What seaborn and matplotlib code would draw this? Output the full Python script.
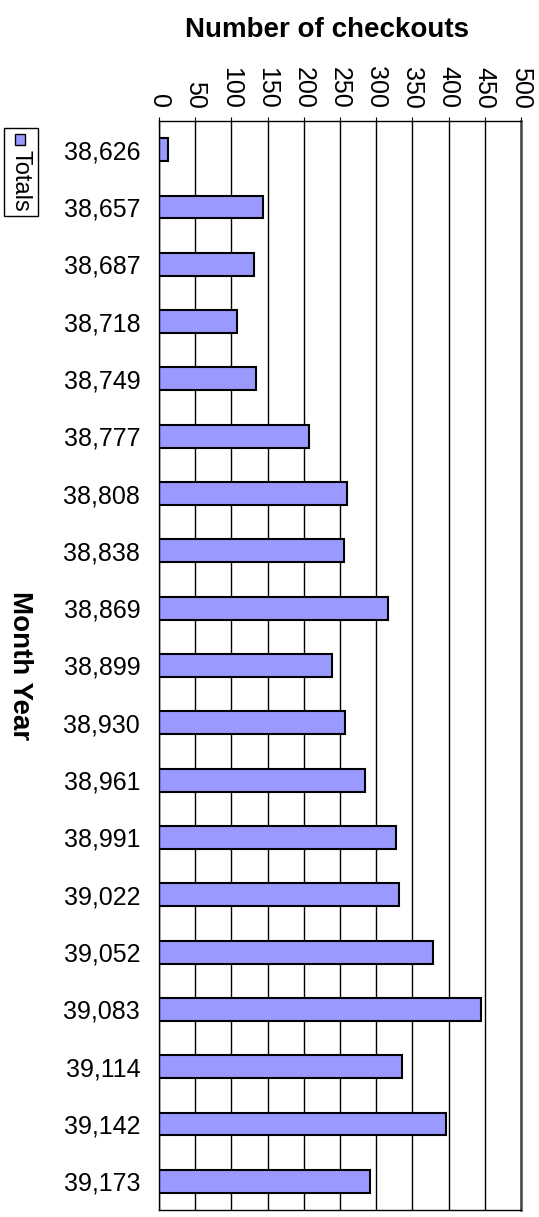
import pandas as pd
import matplotlib
matplotlib.use("Agg")
import matplotlib.pyplot as plt
import seaborn as sns
from matplotlib.patches import Rectangle

# Datos: etiquetas de mes (serie de fecha de Excel) y total de préstamos
months = ["38,626", "38,657", "38,687", "38,718", "38,749", "38,777", "38,808",
          "38,838", "38,869", "38,899", "38,930", "38,961", "38,991", "39,022",
          "39,052", "39,083", "39,114", "39,142", "39,173"]
totals = [12, 144, 131, 108, 134, 207, 260, 256, 316, 239, 257, 284, 328, 331,
          378, 445, 336, 397, 292]
x_ticks = [0, 50, 100, 150, 200, 250, 300, 350, 400, 450, 500]

df = pd.DataFrame({"month": months, "totals": totals})

sns.set_style("white")
plt.rcParams["font.family"] = ["Liberation Sans", "DejaVu Sans"]
plt.rcParams["text.color"] = "black"
plt.rcParams["xtick.color"] = "black"
plt.rcParams["ytick.color"] = "black"

W, H = 539, 1217
fig = plt.figure(figsize=(W / 100, H / 100), dpi=100)
ax = fig.add_axes([159 / W, 1 - 1210 / H, (521 - 159) / W, (1210 - 121) / H])

sns.barplot(data=df, x="totals", y="month", orient="h", color="#9999FF",
            saturation=1, width=0.4, edgecolor="black", linewidth=1.5, ax=ax)

ax.set_xlim(0, 500)
ax.set_xticks(x_ticks)
ax.xaxis.tick_top()
ax.grid(axis="x", color="black", linewidth=1)
ax.set_axisbelow(True)
ax.tick_params(axis="x", labelrotation=-90, labelsize=18, length=3, pad=6,
               top=True, bottom=False, colors="black")
ax.tick_params(axis="y", labelsize=18, length=0, pad=13.5, colors="black")
ax.set_xlabel("")
ax.set_ylabel("")

for side in ["left", "top", "bottom"]:
    ax.spines[side].set_color("black")
    ax.spines[side].set_linewidth(1)
ax.spines["right"].set_color("#444444")
ax.spines["right"].set_linewidth(1.8)

fig.text(327 / W, 1 - 30 / H, "Number of checkouts", ha="center", va="center",
         fontsize=20, fontweight="bold", color="black")
fig.text(20 / W, 1 - 666 / H, "Month Year", ha="center", va="center",
         rotation=-90, fontsize=20, fontweight="bold", color="black")

# Leyenda girada
fig.patches.append(Rectangle((4 / W, 1 - 216 / H), 34 / W, 88 / H,
                             transform=fig.transFigure, facecolor="white",
                             edgecolor="black", linewidth=1))
fig.patches.append(Rectangle((15 / W, 1 - 145 / H), 10 / W, 11 / H,
                             transform=fig.transFigure, facecolor="#9999FF",
                             edgecolor="black", linewidth=1))
fig.text(20 / W, 1 - 181 / H, "Totals", ha="center", va="center",
         rotation=-90, fontsize=17, color="black")

fig.savefig("out.png", dpi=100)
